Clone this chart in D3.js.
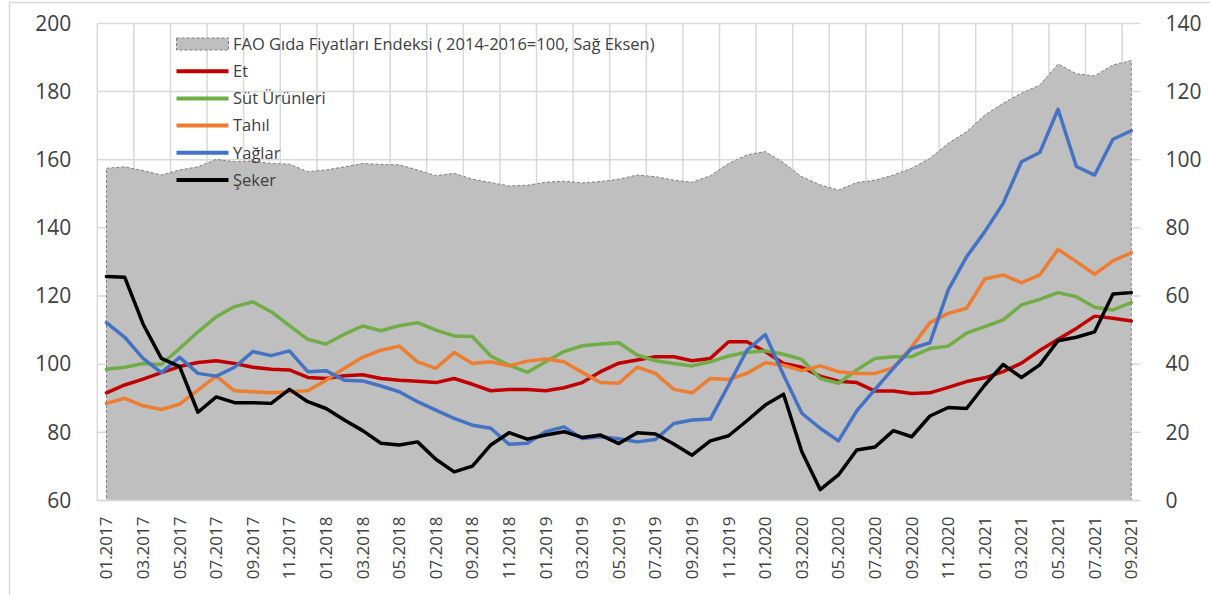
<!DOCTYPE html>
<html><head><meta charset="utf-8">
<script src="https://cdn.jsdelivr.net/npm/d3@7"></script>
<style>
body{margin:0;background:#fff}
svg{display:block}
text{font-family:"Open Sans",sans-serif;fill:#404040}
</style>
</head><body>
<svg id="chart" width="1210" height="595"></svg>
<script>
const months = ["01.2017","02.2017","03.2017","04.2017","05.2017","06.2017","07.2017","08.2017","09.2017","10.2017","11.2017","12.2017",
"01.2018","02.2018","03.2018","04.2018","05.2018","06.2018","07.2018","08.2018","09.2018","10.2018","11.2018","12.2018",
"01.2019","02.2019","03.2019","04.2019","05.2019","06.2019","07.2019","08.2019","09.2019","10.2019","11.2019","12.2019",
"01.2020","02.2020","03.2020","04.2020","05.2020","06.2020","07.2020","08.2020","09.2020","10.2020","11.2020","12.2020",
"01.2021","02.2021","03.2021","04.2021","05.2021","06.2021","07.2021","08.2021","09.2021"];

const fao = [97.5,97.9,96.8,95.5,97.0,97.9,100.1,99.4,99.6,98.9,98.7,96.5,97.0,97.9,98.9,98.6,
98.5,97.0,95.3,96.0,94.3,93.3,92.3,92.5,93.4,93.7,93.2,93.6,
94.3,95.5,95.0,94.0,93.4,95.3,98.9,101.4,102.4,99.1,
95.0,92.6,91.1,93.3,94.0,95.5,97.5,100.4,104.8,108.2,113.1,116.6,119.5,121.9,128.1,125.2,124.6,127.8,129.1];

const et = [91.6,93.9,95.6,97.5,99.3,100.5,101.0,100.2,99.1,98.5,98.3,96.1,95.8,96.6,96.9,
95.8,95.3,95.0,94.6,95.8,94.1,92.2,92.6,92.6,92.2,93.1,94.6,97.8,100.3,
101.2,102.2,102.2,101.0,101.7,106.6,106.6,103.7,100.2,99.1,96.5,95.0,94.6,92.1,
92.1,91.4,91.6,93.2,94.9,96.0,97.8,100.3,104.0,107.3,110.5,114.1,113.5,112.7];

const sut = [98.5,99.1,100.2,99.9,104.6,109.5,113.9,116.9,118.3,115.4,111.3,107.3,105.9,108.8,111.2,
109.8,111.3,112.2,110.0,108.3,108.1,102.4,99.7,97.6,100.7,103.7,105.4,105.9,106.3,
102.7,101.0,100.2,99.5,100.7,102.4,103.5,103.9,102.9,101.4,95.8,94.4,98.3,101.7,
102.2,102.2,104.6,105.3,109.1,111.0,113.0,117.4,119.0,121.0,119.8,116.7,115.9,118.1];

const tahil = [88.5,90.0,87.8,86.7,88.3,92.4,96.5,92.2,91.9,91.6,91.9,92.2,95.3,98.8,102.0,
104.1,105.3,100.7,98.8,103.4,100.2,100.7,99.5,100.9,101.5,100.7,97.6,94.6,94.4,
99.1,97.3,92.6,91.6,95.8,95.5,97.3,100.4,99.7,98.1,99.5,97.8,97.3,97.3,
99.0,105.0,112.2,114.9,116.4,125.0,126.2,123.9,126.2,133.7,130.1,126.4,130.3,132.7];

const yaglar = [112.2,107.9,101.7,97.5,102.0,97.3,96.5,99.1,103.7,102.5,103.9,97.8,98.1,95.3,95.1,
93.6,91.9,89.0,86.5,84.1,82.1,81.2,76.5,76.8,80.2,81.6,78.2,78.7,78.1,
77.2,77.9,82.6,83.6,83.9,93.9,104.1,108.7,96.8,85.6,81.2,77.5,86.3,92.6,
98.8,104.6,106.3,121.8,131.5,138.9,147.2,159.4,162.1,174.8,158.0,155.5,166.0,168.5];

const seker = [125.7,125.5,111.8,101.7,99.3,85.9,90.4,88.7,88.7,88.5,92.6,89.0,87.0,83.6,80.5,
76.8,76.3,77.2,72.1,68.4,70.1,76.3,79.9,78.0,79.2,80.2,78.5,79.2,76.7,
79.9,79.5,76.6,73.3,77.5,79.0,83.4,88.0,91.2,74.3,63.2,67.5,74.8,75.7,
80.5,78.7,84.8,87.3,87.0,93.9,99.9,96.1,99.8,106.9,107.9,109.5,120.6,121.0];

const leftTicks = [60,80,100,120,140,160,180,200];
const rightTicks = [0,20,40,60,80,100,120,140];

const seriesNames = ["Et","Süt Ürünleri","Tahıl","Yağlar","Şeker"];
const seriesColors = ["#c00000","#70ad47","#ed7d31","#4472c4","#000000"];
const seriesData = [et, sut, tahil, yaglar, seker];
const faoLabel = "FAO Gıda Fiyatları Endeksi ( 2014-2016=100, Sağ Eksen)";

const L = 97.3, R = 1140.4, T = 23.4, B = 500.5;
const svg = d3.select("#chart");

const x = d3.scaleBand().domain(months).range([L, R]).paddingInner(0).paddingOuter(0);
const cx = d => x(d) + x.bandwidth()/2;
const yL = d3.scaleLinear().domain([60,200]).range([B, T]);
const yR = d3.scaleLinear().domain([0,140]).range([B, T]);

// outer border
svg.append("rect").attr("x",9.5).attr("y",2.5).attr("width",1220).attr("height",620)
  .attr("fill","none").attr("stroke","#d9d9d9").attr("stroke-width",1.5);

// horizontal gridlines
svg.append("g").selectAll("line").data(leftTicks).join("line")
  .attr("x1",L).attr("x2",R).attr("y1",d=>yL(d)).attr("y2",d=>yL(d))
  .attr("stroke","#d9d9d9").attr("stroke-width",1.5);

// vertical gridlines (every 2 categories)
const vIdx = months.map((m,i)=>i).filter(i=>i%2===0);
svg.append("g").selectAll("line").data(vIdx).join("line")
  .attr("x1",i=>x(months[i])).attr("x2",i=>x(months[i])).attr("y1",T).attr("y2",B)
  .attr("stroke","#d9d9d9").attr("stroke-width",1.5);

// area
const area = d3.area().x((d,i)=>cx(months[i])).y0(yR(0)).y1(d=>yR(d));
svg.append("path").datum(fao).attr("d",area)
  .attr("fill","#bfbfbf").attr("stroke","#7f7f7f").attr("stroke-width",1)
  .attr("stroke-dasharray","3,2");

// bottom axis line
svg.append("line").attr("x1",L).attr("x2",R).attr("y1",B).attr("y2",B)
  .attr("stroke","#d9d9d9").attr("stroke-width",1.5);

// lines
const line = d3.line().x((d,i)=>cx(months[i])).y(d=>yL(d));
seriesData.forEach((s,k)=>{
  svg.append("path").datum(s).attr("d",line).attr("fill","none")
    .attr("stroke",seriesColors[k]).attr("stroke-width",3.5)
    .attr("stroke-linejoin","round").attr("stroke-linecap","round");
});

// axes
const gl = svg.append("g").attr("transform",`translate(${L},0)`)
  .call(d3.axisLeft(yL).tickValues(leftTicks).tickSize(0).tickPadding(26).tickFormat(d3.format("d")));
gl.select(".domain").remove();
gl.selectAll("text").attr("font-size",21).attr("font-family",'"Open Sans",sans-serif').attr("fill","#404040");

const gr = svg.append("g").attr("transform",`translate(${R},0)`)
  .call(d3.axisRight(yR).tickValues(rightTicks).tickSize(0).tickPadding(25).tickFormat(d3.format("d")));
gr.select(".domain").remove();
gr.selectAll("text").attr("font-size",21).attr("font-family",'"Open Sans",sans-serif').attr("fill","#404040");

const xTicks = months.filter((m,i)=>i%2===0);
const gb = svg.append("g").attr("transform",`translate(0,${B})`)
  .call(d3.axisBottom(x).tickValues(xTicks).tickSize(0));
gb.select(".domain").remove();
gb.selectAll("text").attr("transform","rotate(-90)").attr("x",-16).attr("y",0).attr("dy","0.35em")
  .attr("text-anchor","end").attr("font-size",17).attr("font-family",'"Open Sans",sans-serif').attr("fill","#404040");

// legend
const lg = svg.append("g");
const lx0 = 176.5, lx1 = 228.5, tx = 233;
const rowY = [44, 71.2, 98.4, 125.6, 152.8, 180];
lg.append("rect").attr("x",lx0).attr("y",rowY[0]-6).attr("width",lx1-lx0).attr("height",12)
  .attr("fill","#bfbfbf").attr("stroke","#7f7f7f").attr("stroke-width",1).attr("stroke-dasharray","3,2");
lg.append("text").attr("x",tx).attr("y",rowY[0]).attr("dy","0.35em").attr("font-size",16.5).text(faoLabel);
seriesNames.forEach((n,k)=>{
  lg.append("line").attr("x1",lx0).attr("x2",lx1).attr("y1",rowY[k+1]).attr("y2",rowY[k+1])
    .attr("stroke",seriesColors[k]).attr("stroke-width",4);
  lg.append("text").attr("x",tx).attr("y",rowY[k+1]).attr("dy","0.35em").attr("font-size",16.5).text(n);
});
</script>
</body></html>
